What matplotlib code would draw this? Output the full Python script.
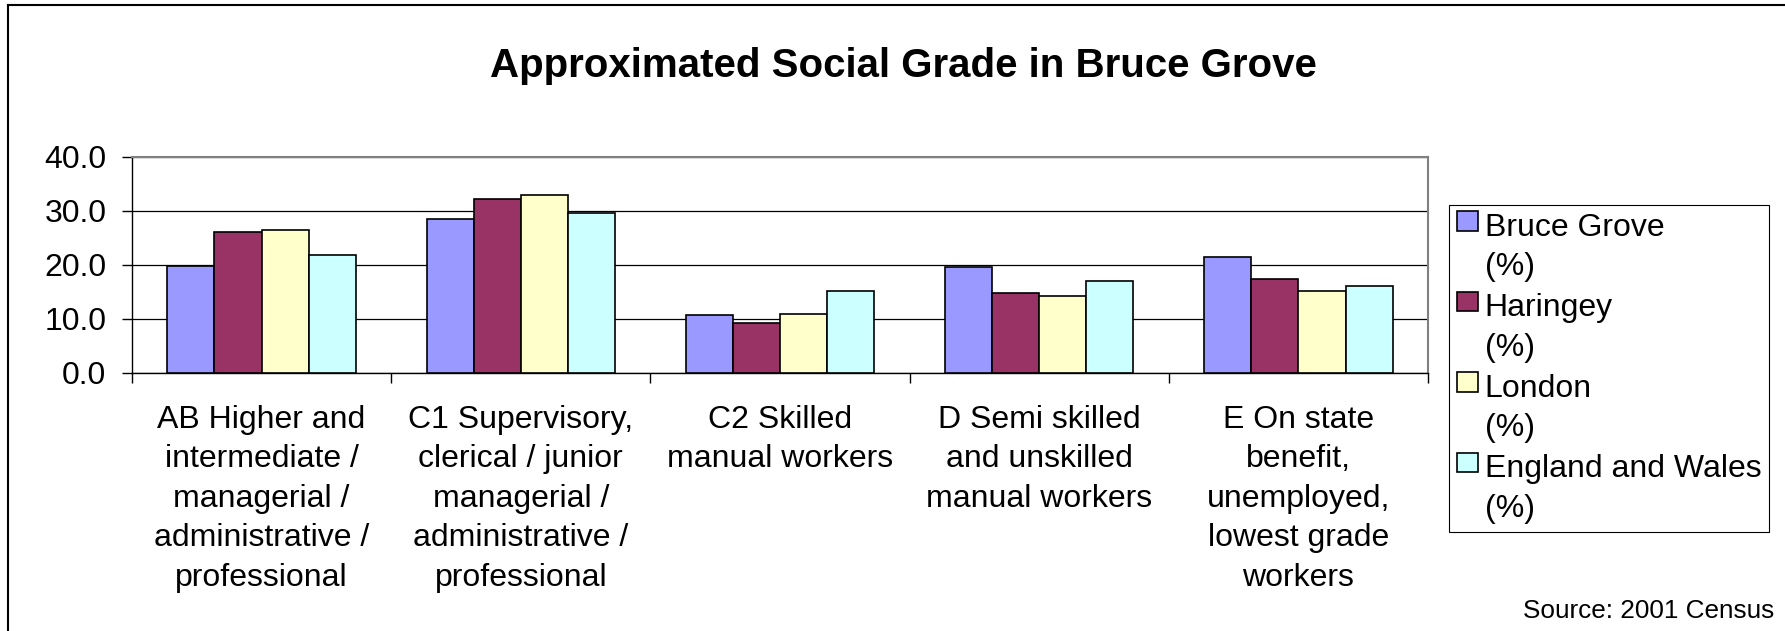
import matplotlib
matplotlib.use("Agg")
import matplotlib.pyplot as plt
import numpy as np
from matplotlib.container import BarContainer
from matplotlib.legend_handler import HandlerPatch
from matplotlib.lines import Line2D
from matplotlib.patches import Rectangle

CATEGORIES = [
    "AB Higher and\nintermediate /\nmanagerial /\nadministrative /\nprofessional",
    "C1 Supervisory,\nclerical / junior\nmanagerial /\nadministrative /\nprofessional",
    "C2 Skilled\nmanual workers",
    "D Semi skilled\nand unskilled\nmanual workers",
    "E On state\nbenefit,\nunemployed,\nlowest grade\nworkers",
]
SERIES = ["Bruce Grove\n(%)", "Haringey\n(%)", "London\n(%)", "England and Wales\n(%)"]
BRUCE_GROVE = [19.9, 28.5, 10.8, 19.6, 21.4]
HARINGEY = [26.2, 32.2, 9.3, 14.8, 17.5]
LONDON = [26.5, 33.0, 11.0, 14.3, 15.1]
ENGLAND_WALES = [21.9, 29.7, 15.1, 17.1, 16.1]
COLORS = ["#9999FF", "#993366", "#FFFFCC", "#CCFFFF"]

TITLE = "Approximated Social Grade in Bruce Grove"
SOURCE = "Source: 2001 Census"

W, H = 1785, 631
FS = 23
LS_X = 1.41    # line spacing of the category labels
LS_LEG = 1.42  # line spacing of the legend labels


class FirstLineSquare(HandlerPatch):
    """Small legend square sitting on the first line of a two-line label.
    The legend centres handles on multi-line text, so lift it by half a line."""

    def _create_patch(self, legend, orig_handle, xdescent, ydescent,
                      width, height, fontsize):
        step = 0.2 + 0.75 * LS_LEG
        rise = fontsize * (0.5 * step + 0.247)
        return Rectangle((-xdescent, rise), width, 0.62 * fontsize)


def first_bar(tgt, src):
    tgt.update_from(src.patches[0])


def main():
    plt.rcParams["font.family"] = ["Liberation Sans", "DejaVu Sans"]
    fig = plt.figure(figsize=(W / 100, H / 100), dpi=100)
    ax = fig.add_axes([132 / W, 1 - 373 / H, (1428 - 132) / W, (373 - 157) / H])

    values = [BRUCE_GROVE, HARINGEY, LONDON, ENGLAND_WALES]
    x = np.arange(len(CATEGORIES))
    bw = 1 / 5.5
    for j, (vals, lab, col) in enumerate(zip(values, SERIES, COLORS)):
        ax.bar(x + (j - 1.5) * bw, vals, width=bw, color=col, edgecolor="black",
               linewidth=1.2, label=lab, zorder=3)

    ax.set_xlim(-0.5, len(CATEGORIES) - 0.5)
    ax.set_ylim(0, 40)
    ax.set_yticks(np.arange(0, 41, 10))
    ax.set_yticklabels([f"{v:.1f}" for v in np.arange(0, 41, 10)])
    ax.yaxis.grid(True, color="black", linewidth=0.9, zorder=0)
    ax.set_axisbelow(True)

    ax.set_xticks(x)
    ax.set_xticklabels(CATEGORIES, fontsize=FS, linespacing=LS_X)
    ax.set_xticks(np.arange(-0.5, len(CATEGORIES), 1), minor=True)
    ax.tick_params(axis="x", which="major", length=0, pad=23)
    ax.tick_params(axis="x", which="minor", length=7, width=1, direction="out")
    ax.tick_params(axis="y", length=7.5, width=1, direction="out", pad=11,
                   labelsize=FS)

    for side in ("top", "right"):
        ax.spines[side].set_color("#808080")
        ax.spines[side].set_linewidth(1.5)
    for side in ("left", "bottom"):
        ax.spines[side].set_color("black")
        ax.spines[side].set_linewidth(1.0)

    leg = ax.legend(loc="upper left", bbox_to_anchor=(1449 / W, 1 - 205 / H),
                    bbox_transform=fig.transFigure, borderaxespad=0,
                    fontsize=FS, frameon=True, fancybox=False,
                    borderpad=0.24, labelspacing=0.34, handlelength=0.66,
                    handleheight=0.7, handletextpad=0.22,
                    handler_map={BarContainer: FirstLineSquare(update_func=first_bar)})
    for t in leg.get_texts():
        t.set_linespacing(LS_LEG)
    frame = leg.get_frame()
    frame.set_edgecolor("black")
    frame.set_linewidth(0.8)
    frame.set_alpha(1)

    fig.text(903 / W, 1 - 76.7 / H, TITLE, ha="center", va="baseline",
             fontsize=29, fontweight="bold")
    fig.text(1774 / W, 1 - 618 / H, SOURCE, ha="right", va="baseline", fontsize=18.8)

    # outer chart frame (left and top edges only)
    fig.add_artist(Line2D([8 / W, 8 / W], [0, 1 - 5 / H], transform=fig.transFigure,
                          color="black", linewidth=1.5))
    fig.add_artist(Line2D([8 / W, 1], [1 - 5 / H, 1 - 5 / H], transform=fig.transFigure,
                          color="black", linewidth=1.5))

    fig.savefig("out.png", dpi=100)
    plt.close(fig)


if __name__ == "__main__":
    main()
